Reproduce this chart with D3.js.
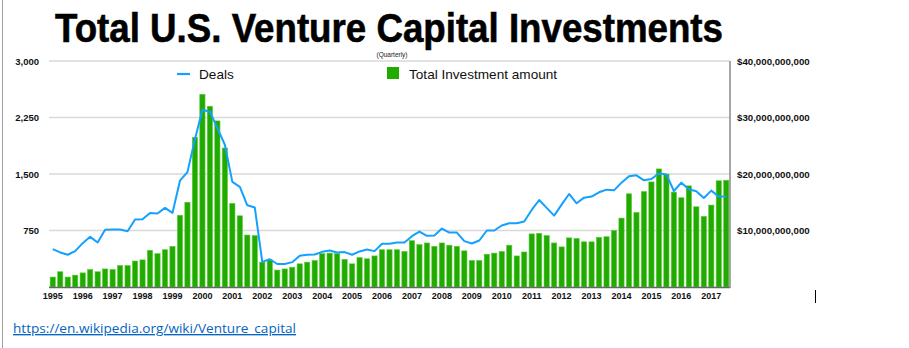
<!DOCTYPE html>
<html>
<head>
<meta charset="utf-8">
<script src="https://cdn.jsdelivr.net/npm/d3@7"></script>
<style>
  html, body { margin: 0; padding: 0; background: #fff; }
  svg { display: block; }
</style>
</head>
<body>
<svg id="chart" width="909" height="348"></svg>
<script>
// ---------- DATA ----------
const years = [1995,1996,1997,1998,1999,2000,2001,2002,2003,2004,2005,2006,2007,2008,2009,2010,2011,2012,2013,2014,2015,2016,2017];
const quartersPerYear = ["Q1","Q2","Q3","Q4"];
// 1995 Q1 .. 2017 Q3
const quarters = years.flatMap(y => quartersPerYear.map(q => y + " " + q)).slice(0, 91);

const deals = [503,459,428,476,582,666,591,759,763,763,741,895,900,983,975,1050,983,1411,1525,1960,
  2353,2326,2110,1888,1395,1330,1085,1055,333,368,305,305,330,415,428,432,467,485,459,463,
  428,472,498,476,573,573,591,591,675,736,679,684,776,723,723,609,578,617,750,750,
  816,847,847,869,1023,1155,1050,948,1094,1235,1111,1186,1200,1257,1292,1283,1385,1469,1482,1416,
  1433,1508,1495,1274,1385,1297,1270,1182,1279,1200,1200];

// Total investment amount, billions of US dollars
const investment = [1.76,2.7,1.76,2.1,2.5,3.1,2.7,3.2,3.1,3.8,3.8,4.6,4.8,6.5,5.9,6.6,7.2,12.7,15.0,26.5,
  34.1,32.0,29.4,24.6,14.8,12.6,9.2,9.1,4.4,4.8,3.0,3.2,3.5,4.1,4.4,4.7,5.9,6.0,5.9,4.9,
  4.1,5.2,5.0,5.5,6.6,6.6,6.6,6.3,8.2,7.5,7.8,7.2,7.8,7.4,7.2,6.4,4.7,4.7,5.8,6.0,
  6.3,7.4,5.5,6.2,9.4,9.5,9.1,7.8,7.1,8.7,8.6,8.0,8.0,8.8,8.9,10.0,12.2,16.5,13.2,16.9,
  18.6,20.9,20.0,16.8,15.8,17.9,14.2,12.5,14.5,18.8,18.9];

const dealTicks = [750, 1500, 2250, 3000];
const investTicks = [10, 20, 30, 40]; // billions

const title = "Total U.S. Venture Capital Investments";
const subtitle = "(Quarterly)";
const legendDeals = "Deals";
const legendInvest = "Total Investment amount";
const sourceLink = "https://en.wikipedia.org/wiki/Venture_capital";

// ---------- LAYOUT ----------
const svg = d3.select("#chart");
const plot = { left: 49, right: 730, top: 61, bottom: 287 };
const barColor = "#21aa00";
const lineColor = "#14a0ff";
const font = "'Liberation Sans', Arial, Helvetica, sans-serif";

const x = d3.scaleBand().domain(quarters).range([plot.left, plot.right])
  .paddingInner(0.3).paddingOuter(0.15);
const yDeals = d3.scaleLinear().domain([0, 3000]).range([plot.bottom, plot.top]);
const yInv = d3.scaleLinear().domain([0, 40]).range([plot.bottom, plot.top]);

// page border on left
svg.append("line").attr("x1", 2.5).attr("x2", 2.5).attr("y1", 0).attr("y2", 348)
  .attr("stroke", "#a0a0a0").attr("stroke-width", 1);

// title
svg.append("text").attr("x", 55).attr("y", 42)
  .attr("font-family", font).attr("font-weight", "bold").attr("font-size", 40)
  .attr("textLength", 668).attr("lengthAdjust", "spacingAndGlyphs")
  .attr("fill", "#000").attr("stroke", "#000").attr("stroke-width", 0.6).text(title);

svg.append("text").attr("x", 392).attr("y", 57).attr("text-anchor", "middle")
  .attr("font-family", font).attr("font-size", 6.5).attr("fill", "#222").text(subtitle);

// gridlines
svg.append("g").selectAll("line").data(dealTicks).join("line")
  .attr("x1", plot.left).attr("x2", plot.right)
  .attr("y1", d => yDeals(d)).attr("y2", d => yDeals(d))
  .attr("stroke", "#d9d9d9").attr("stroke-width", 1.5);

// left axis labels
const leftAxis = d3.axisLeft(yDeals).tickValues(dealTicks).tickSize(0).tickPadding(0)
  .tickFormat(d3.format(","));
svg.append("g").attr("transform", `translate(39,0)`).call(leftAxis)
  .call(g => g.select(".domain").remove())
  .call(g => g.selectAll("text").attr("font-family", font).attr("font-weight", "bold")
    .attr("font-size", 9.5).attr("fill", "#111"));

// right axis labels
const rightAxis = d3.axisRight(yInv).tickValues(investTicks).tickSize(0).tickPadding(0)
  .tickFormat(d => "$" + d3.format(",")(d * 1e9));
svg.append("g").attr("transform", `translate(737,0)`).call(rightAxis)
  .call(g => g.select(".domain").remove())
  .call(g => g.selectAll("text").attr("font-family", font).attr("font-weight", "bold")
    .attr("font-size", 9.7).attr("fill", "#111"));

// bars
svg.append("g").selectAll("rect").data(investment).join("rect")
  .attr("x", (d, i) => x(quarters[i]))
  .attr("width", x.bandwidth())
  .attr("y", d => yInv(d))
  .attr("height", d => plot.bottom - yInv(d))
  .attr("fill", barColor)
  .attr("stroke", "#5ccc3c").attr("stroke-width", 0.6);

// deals line
const line = d3.line()
  .x((d, i) => x(quarters[i]) + x.bandwidth() / 2)
  .y(d => yDeals(d));
svg.append("path").datum(deals).attr("d", line)
  .attr("fill", "none").attr("stroke", lineColor).attr("stroke-width", 2)
  .attr("stroke-linejoin", "round");

// baseline and right border
svg.append("line").attr("x1", plot.left).attr("x2", plot.right)
  .attr("y1", plot.bottom + 0.5).attr("y2", plot.bottom + 0.5)
  .attr("stroke", "#666").attr("stroke-width", 1.5);
svg.append("line").attr("x1", plot.right).attr("x2", plot.right)
  .attr("y1", plot.top).attr("y2", plot.bottom + 1)
  .attr("stroke", "#888").attr("stroke-width", 1.5);

// x-axis year labels (at Q1 of each year)
const xAxis = d3.axisBottom(x)
  .tickValues(quarters.filter(q => q.endsWith("Q1")))
  .tickSize(0).tickPadding(0)
  .tickFormat(q => q.slice(0, 4));
svg.append("g").attr("transform", `translate(0,${plot.bottom + 6})`).call(xAxis)
  .call(g => g.select(".domain").remove())
  .call(g => g.selectAll("text").attr("font-family", font).attr("font-weight", "bold")
    .attr("font-size", 9).attr("fill", "#111").attr("dy", "0.71em"));

// legend
svg.append("line").attr("x1", 177).attr("x2", 190).attr("y1", 74).attr("y2", 74)
  .attr("stroke", lineColor).attr("stroke-width", 2.2);
svg.append("text").attr("x", 199).attr("y", 79)
  .attr("font-family", font).attr("font-size", 13.6).attr("fill", "#111").text(legendDeals);
svg.append("rect").attr("x", 387).attr("y", 67).attr("width", 12).attr("height", 12)
  .attr("fill", barColor);
svg.append("text").attr("x", 409).attr("y", 79)
  .attr("font-family", font).attr("font-size", 13.6).attr("fill", "#111").text(legendInvest);

// cursor mark
svg.append("line").attr("x1", 815.5).attr("x2", 815.5).attr("y1", 290).attr("y2", 303)
  .attr("stroke", "#000").attr("stroke-width", 1);

// source link
svg.append("text").attr("x", 13).attr("y", 333)
  .attr("font-family", "'Open Sans', 'Liberation Sans', sans-serif").attr("font-size", 13.5)
  .attr("textLength", 283).attr("lengthAdjust", "spacingAndGlyphs")
  .attr("fill", "#0563c1").attr("text-decoration", "underline").text(sourceLink);
</script>
</body>
</html>
